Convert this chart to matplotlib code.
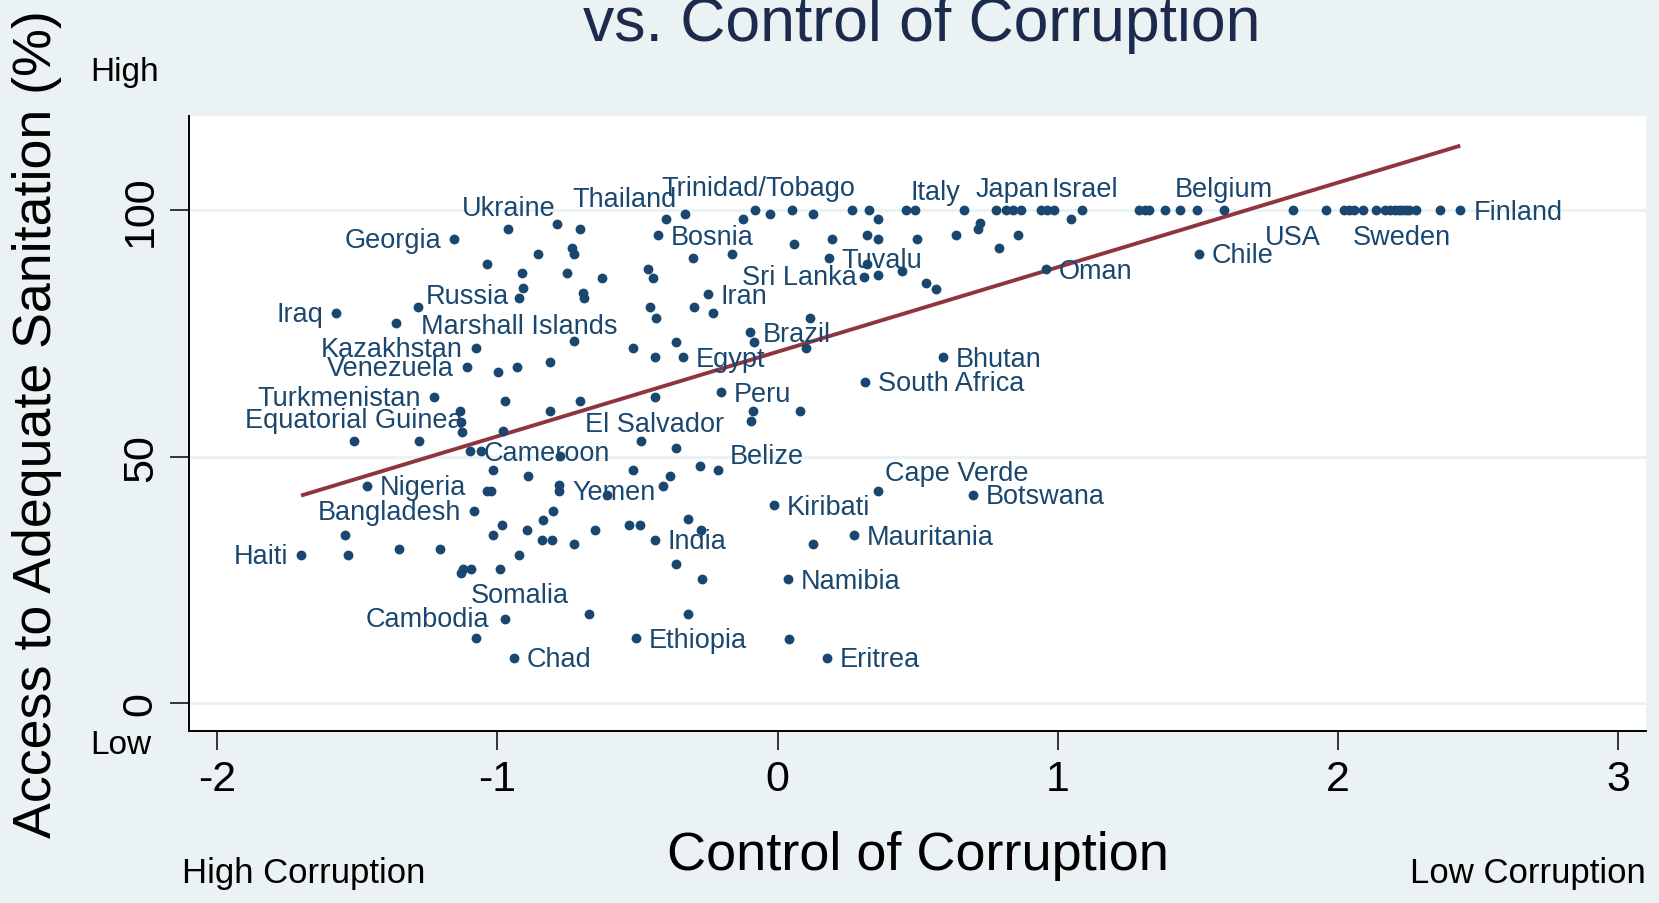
import numpy as np
import matplotlib
matplotlib.use("Agg")
import matplotlib.pyplot as plt

plt.rcParams['font.family'] = ['Liberation Sans', 'DejaVu Sans']

# ---------------- data ----------------
label_names = ["Georgia", "Ukraine", "Thailand", "Trinidad/Tobago", "Italy", "Japan", "Israel",
               "Belgium", "USA", "Sweden", "Finland", "Chile", "Oman", "Bosnia", "Tuvalu",
               "Sri Lanka", "Iran", "Russia", "Iraq", "Marshall Islands", "Kazakhstan",
               "Venezuela", "Brazil", "Egypt", "Bhutan", "South Africa", "Peru", "Turkmenistan",
               "El Salvador", "Equatorial Guinea", "Cameroon", "Belize", "Nigeria", "Yemen",
               "Cape Verde", "Botswana", "Kiribati", "Bangladesh", "Mauritania", "India", "Haiti",
               "Namibia", "Somalia", "Cambodia", "Ethiopia", "Chad", "Eritrea"]
label_coc = [-1.155, -0.961, -0.789, -0.080, 0.490, 0.839, 1.086,
             1.594, 1.840, 2.230, 2.437, 1.504, 0.958, -0.427, 0.182,
             0.308, -0.249, -0.923, -1.576, -0.728, -1.077,
             -1.110, -0.099, -0.337, 0.589, 0.313, -0.202, -1.227,
             -0.439, -1.513, -1.097, -0.214, -1.465, -0.779,
             0.360, 0.697, -0.012, -1.085, 0.272, -0.438, -1.701,
             0.036, -1.076, -0.973, -0.507, -0.942, 0.175]
label_san = [94.2, 96.3, 97.3, 100, 100, 100, 100,
             100, 100, 100, 100, 91.2, 88.1, 95.0, 90.3,
             86.4, 83.0, 82.3, 79.1, 73.4, 72.1,
             68.1, 75.3, 70.2, 70.2, 65.2, 63.1, 62.1,
             62.1, 53.2, 51.1, 47.3, 44.1, 43.1,
             43.1, 42.2, 40.1, 39.0, 34.0, 33.1, 30.1,
             25.1, 13.1, 16.9, 13.1, 9.1, 9.1]

other_coc = [-0.704, -0.400, -1.036, -0.857, -0.733, -0.728, -0.911, -0.752, -0.628, -0.464,
             -0.446, -0.910, -0.696, -0.692, -1.361, -1.283, -0.456, -0.435, -0.516, -0.439,
             -0.363, -0.998, -0.930, -0.813, -0.973, -0.704, -0.811, -1.133, -1.130, -1.128,
             -0.981, -1.279, -0.487, -0.363,
             -1.058, -0.777, -1.017, -0.891, -0.516, -0.384, -0.408, -1.037, -1.023, -0.779,
             -0.609, -0.801, -0.839, -0.983, -1.017, -0.895, -0.842, -0.807, -0.726, -0.651,
             -0.531, -0.490, -0.363, -1.544, -1.532, -1.350, -1.204, -0.923, -1.130, -1.122,
             -1.095, -0.991, -0.673,
             -0.087, 0.079, -0.095, -0.277, -0.318, -0.274, 0.126, -0.270, -0.318, 0.039,
             -0.330, -0.124, -0.027, 0.051, 0.125, 0.264, 0.327, 0.360, 0.460, 0.667,
             0.779, 0.815, 0.868, 0.942, 0.960, 0.987, 1.046, -0.301, -0.163, 0.058,
             0.193, 0.320, 0.360, 0.498, 0.636, 0.717, 0.724, 0.791, 0.859, 0.319,
             0.360, 0.444, 0.530, 0.566, -0.298, -0.229, 0.115, -0.083, 0.103,
             1.290, 1.310, 1.326, 1.382, 1.438, 1.496, 1.957, 2.021, 2.040, 2.057,
             2.090, 2.135, 2.168, 2.186, 2.204, 2.218, 2.243, 2.254, 2.280, 2.366]
other_san = [96.3, 98.2, 89.1, 91.2, 92.3, 91.2, 87.3, 87.3, 86.2, 88.1,
             86.2, 84.2, 83.2, 82.3, 77.2, 80.3, 80.3, 78.2, 72.1, 70.2,
             73.2, 67.1, 68.1, 69.2, 61.2, 61.2, 59.3, 59.3, 57.0, 54.9,
             55.1, 53.2, 53.2, 51.7,
             51.1, 50.1, 47.3, 46.1, 47.3, 46.1, 44.1, 43.1, 43.1, 44.2,
             42.2, 39.0, 37.2, 36.1, 34.0, 35.1, 33.1, 33.1, 32.2, 35.1,
             36.1, 36.1, 28.1, 34.0, 30.1, 31.3, 31.3, 30.1, 26.3, 27.2,
             27.2, 27.1, 18.0,
             59.3, 59.3, 57.2, 48.1, 37.3, 35.1, 32.2, 25.1, 18.0, 13.0,
             99.2, 98.2, 99.2, 100, 99.2, 100, 100, 98.2, 100, 100,
             100, 100, 100, 100, 100, 100, 98.2, 90.3, 91.2, 93.2,
             94.2, 95.0, 94.2, 94.2, 95.0, 96.2, 97.5, 92.3, 95.0, 89.1,
             86.9, 87.7, 85.3, 84.1, 80.3, 79.1, 78.2, 73.2, 72.1,
             100, 100, 100, 100, 100, 100, 100, 100, 100, 100,
             100, 100, 100, 100, 100, 100, 100, 100, 100, 100]

# linear fit shown in the chart (intercept, slope)
fit_coef = [71.3, 17.18]

x_ticks = [-2, -1, 0, 1, 2, 3]
y_ticks = [0, 50, 100]

# ---------------- style ----------------
BG = '#eaf2f3'
NAVY = '#1a476f'
MAROON = '#90353b'
PX = 0.72  # points per pixel at dpi 100

# label placement: (ha, dx px, dy px downward)
P3 = ('left', 13, 1.5)
P9 = ('right', -13, 1)
P12 = ('center', 0, -21)
P6 = ('center', 0, 27)
label_place = {
    "Georgia": P9, "Ukraine": P12, "Thailand": ('left', 16, -25),
    "Trinidad/Tobago": ('center', 3, -22), "Italy": ('left', -4, -18), "Japan": P12,
    "Israel": ('center', 3, -21), "Belgium": P12, "USA": P6, "Sweden": P6, "Finland": P3,
    "Chile": P3, "Oman": P3, "Bosnia": P3, "Tuvalu": P3, "Sri Lanka": ('right', -7, 0),
    "Iran": P3, "Russia": ('right', -10, -2), "Iraq": P9,
    "Marshall Islands": ('center', -54, -15),
    "Kazakhstan": P9, "Venezuela": P9, "Brazil": P3, "Egypt": P3, "Bhutan": P3,
    "South Africa": P3, "Peru": P3, "Turkmenistan": P9, "El Salvador": P6,
    "Equatorial Guinea": P12, "Cameroon": P3, "Belize": ('left', 12, -14), "Nigeria": P3,
    "Yemen": P3, "Cape Verde": ('left', 7, -18), "Botswana": P3, "Kiribati": P3,
    "Bangladesh": P9, "Mauritania": P3, "India": P3, "Haiti": P9, "Namibia": P3,
    "Somalia": ('center', 44, -43), "Cambodia": ('right', -16, 0), "Ethiopia": P3,
    "Chad": P3, "Eritrea": P3,
}

W, H = 1659, 904
fig = plt.figure(figsize=(W / 100, H / 100), dpi=100, facecolor=BG)
ax_l, ax_r, ax_t, ax_b = 189.3, 1646, 117, 731.7
ax = fig.add_axes([ax_l / W, 1 - ax_b / H, (ax_r - ax_l) / W, (ax_b - ax_t) / H])
ax.set_facecolor('white')

all_x = np.array(label_coc + other_coc)
all_y = np.array(label_san + other_san)

ax.scatter(all_x, all_y, s=50, color=NAVY, linewidths=0, zorder=3)

xs = np.array([all_x.min(), all_x.max()])
ax.plot(xs, fit_coef[0] + fit_coef[1] * xs, color=MAROON, lw=2.8, zorder=2,
        solid_capstyle='butt')

for name, x, y in zip(label_names, label_coc, label_san):
    ha, dx, dy = label_place[name]
    ax.annotate(name, (x, y), xytext=(dx * PX, -dy * PX), textcoords='offset points',
                ha=ha, va='center', fontsize=19.5, color=NAVY, zorder=4)

ax.set_xlim(-2.1, 3.1)
ax.set_ylim(-5.7, 119.2)
ax.set_xticks(x_ticks)
ax.set_yticks(y_ticks)
ax.set_xticklabels([str(v) for v in x_ticks])
ax.set_yticklabels([str(v) for v in y_ticks])
ax.yaxis.grid(True, color=BG, lw=2.2)
ax.set_axisbelow(True)

for s in ['top', 'right']:
    ax.spines[s].set_visible(False)
for s in ['left', 'bottom']:
    ax.spines[s].set_color('black')
    ax.spines[s].set_linewidth(1.4)

ax.tick_params(axis='both', length=13.5, width=1.1, color='black', labelsize=31, pad=7)
for lab in ax.get_yticklabels():
    lab.set_rotation(90)
    lab.set_va('center')

ax.set_xlabel("Control of Corruption", fontsize=39, color='black')
ax.xaxis.set_label_coords(0.5, (ax_b - 870) / (ax_b - ax_t))
ax.xaxis.label.set_va('baseline')
ax.set_ylabel("Access to Adequate Sanitation (%)", fontsize=38.7, color='black')
ax.yaxis.set_label_coords((37 - ax_l) / (ax_r - ax_l), 0.5)
ax.yaxis.label.set_va('center')

fig.text(922 / W, 1 - 41 / H, "vs. Control of Corruption", ha='center', va='baseline',
         fontsize=45, color='#1c2b4d')
fig.text(90.7 / W, 1 - 81.5 / H, "High", ha='left', va='baseline', fontsize=24, color='black')
fig.text(90.7 / W, 1 - 754 / H, "Low", ha='left', va='baseline', fontsize=24, color='black')
fig.text(181.7 / W, 1 - 883.3 / H, "High Corruption", ha='left', va='baseline', fontsize=25, color='black')
fig.text(1646 / W, 1 - 883.3 / H, "Low Corruption", ha='right', va='baseline', fontsize=25, color='black')

fig.savefig("out.png", dpi=100, facecolor=BG)
